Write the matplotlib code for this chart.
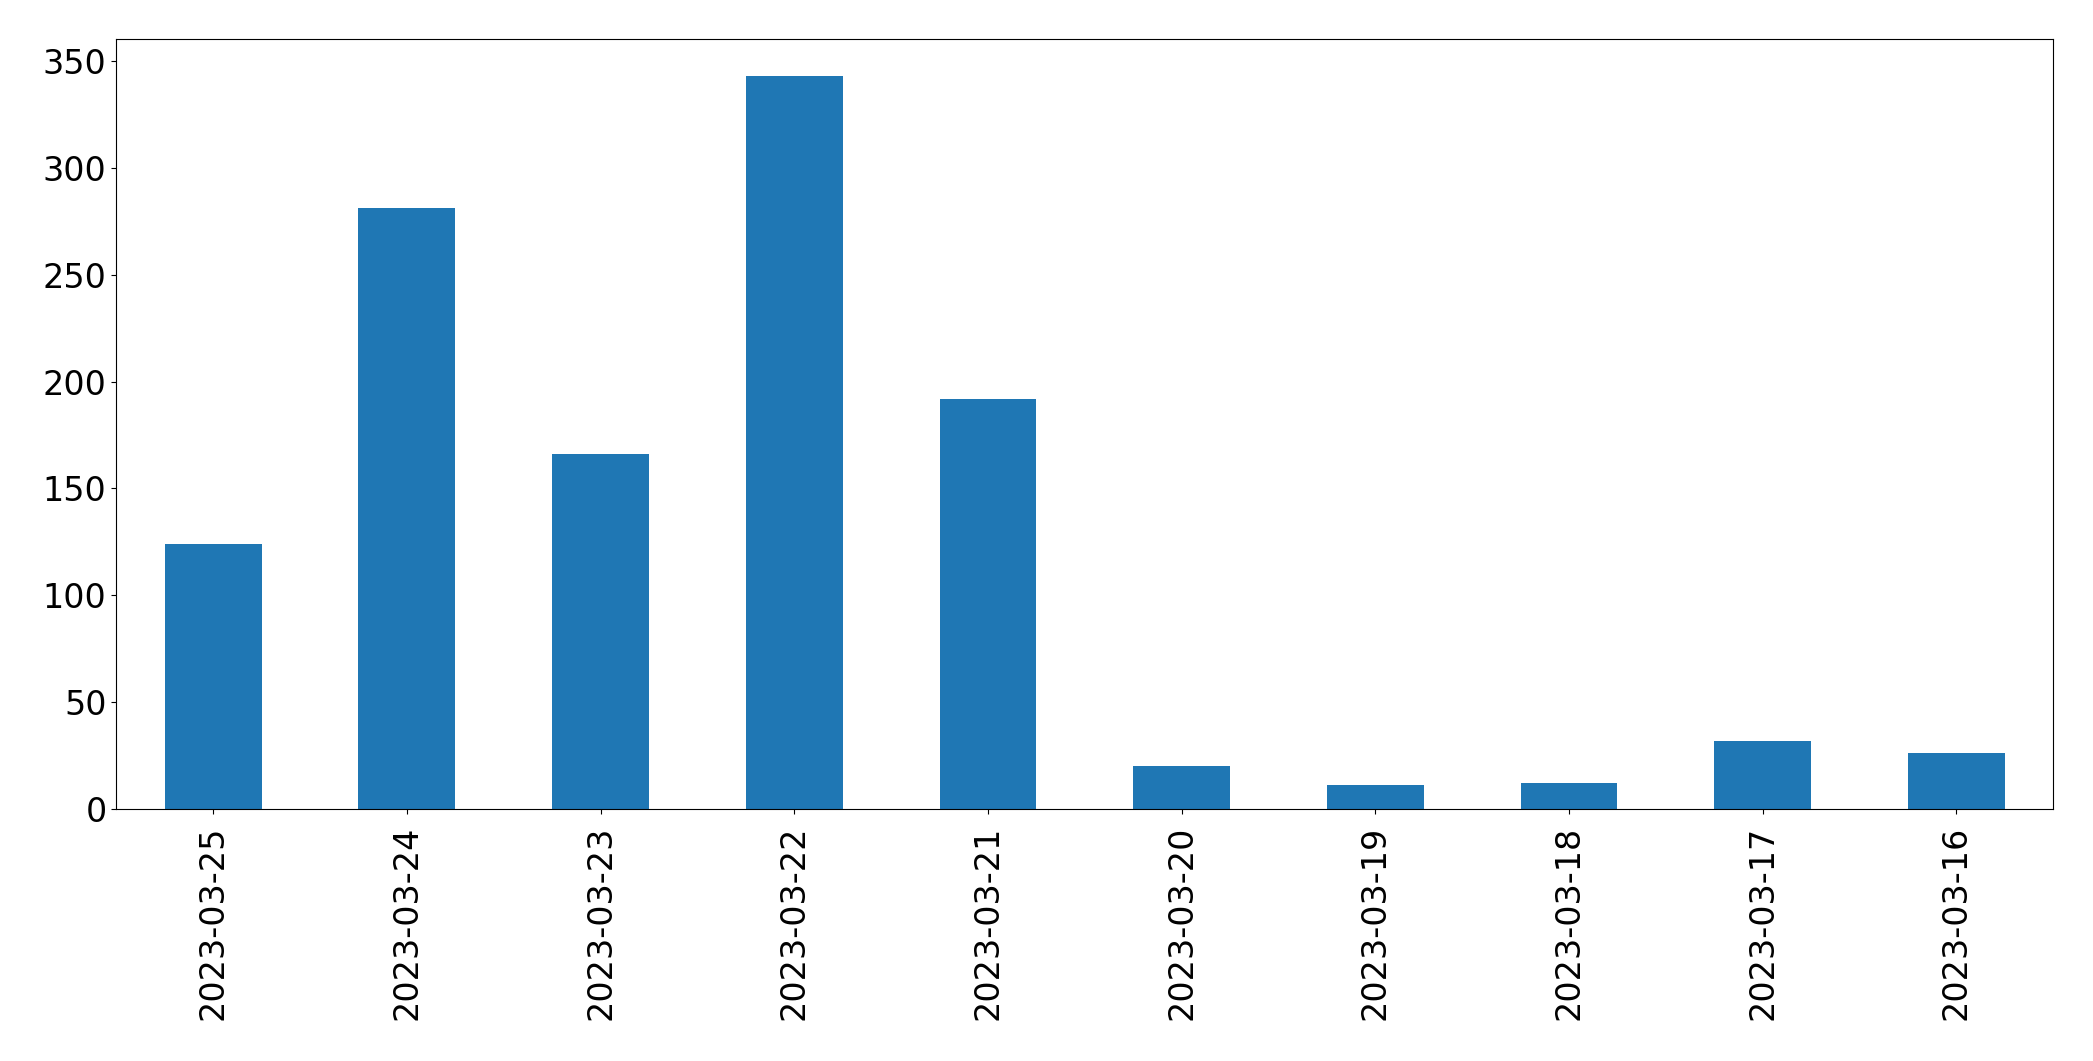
import matplotlib
matplotlib.use("Agg")
import matplotlib.pyplot as plt

dates = ["2023-03-25", "2023-03-24", "2023-03-23", "2023-03-22", "2023-03-21",
         "2023-03-20", "2023-03-19", "2023-03-18", "2023-03-17", "2023-03-16"]
counts = [124, 281, 166, 343, 192, 20, 11, 12, 32, 26]

W, H = 2093, 1061
fig = plt.figure(figsize=(W / 100, H / 100), dpi=100)
left, right, top, bottom = 116.3, 2053.3, 39.3, 809.0
ax = fig.add_axes([left / W, 1 - bottom / H, (right - left) / W, (bottom - top) / H])
x = list(range(len(dates)))
ax.bar(x, counts, width=0.5, color="#1f77b4")
ax.set_xlim(-0.5, len(dates) - 0.5)
ax.set_xticks(x)
ax.set_xticklabels(dates, rotation=90)
ax.tick_params(axis="both", labelsize=24)
ax.tick_params(axis="x", pad=8.5)
for s in ax.spines.values():
    s.set_edgecolor("black")
fig.savefig("out.png", dpi=100)
